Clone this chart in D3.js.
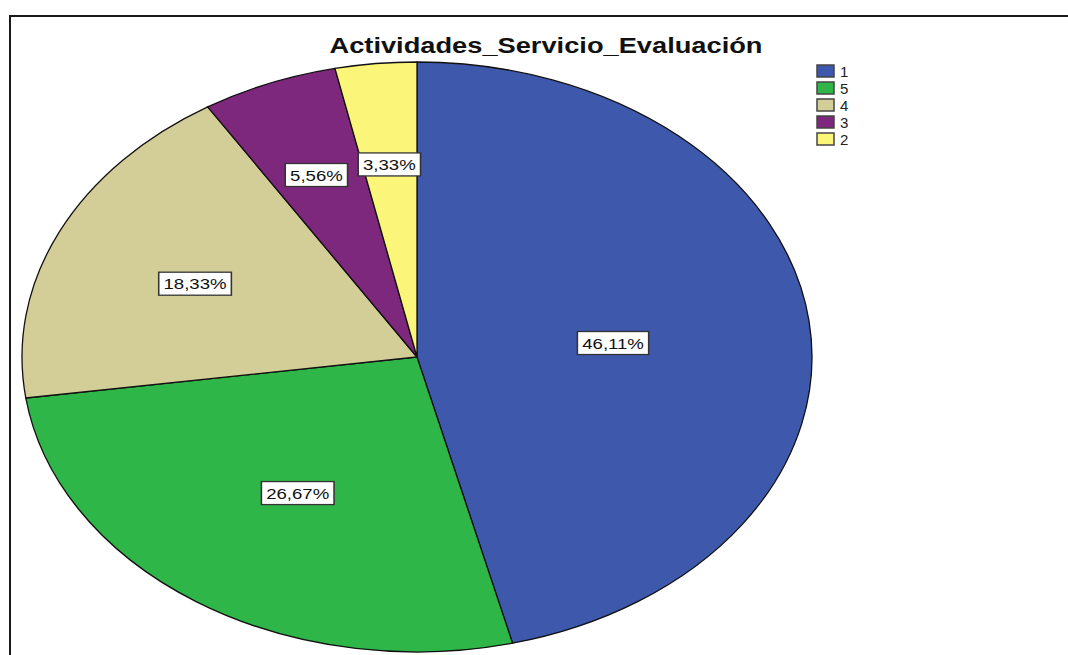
<!DOCTYPE html>
<html>
<head>
<meta charset="utf-8">
<script src="https://cdn.jsdelivr.net/npm/d3@7"></script>
<style>
  body { margin: 0; background: #fff; }
  svg { display: block; font-family: "Liberation Sans", Arial, sans-serif; }
</style>
</head>
<body>
<div id="chart"></div>
<script>
// chart values
const categories = ["1", "5", "4", "3", "2"];
const percents = [46.11, 26.67, 18.33, 5.56, 3.33];
const colors = ["#3e58ab", "#2eb649", "#d3cd98", "#7d287d", "#fbf679"];
const titleText = "Actividades_Servicio_Evaluación";

// layout (not data): label distance from centre, as fraction of radius
const labelRadius = [0.5, 0.54, 0.62, 0.68, 0.67];

const W = 1068, H = 655;
const cx = 417, cy = 357, rx = 395, ry = 295;

const svg = d3.select("#chart").append("svg")
    .attr("width", W)
    .attr("height", H);

// frame
svg.append("path")
    .attr("d", "M10," + H + "V16H" + W)
    .attr("fill", "none")
    .attr("stroke", "#1a1a1a")
    .attr("stroke-width", 2);

// title
svg.append("text")
    .attr("x", 546)
    .attr("y", 53)
    .attr("text-anchor", "middle")
    .attr("font-size", 22)
    .attr("font-weight", "bold")
    .attr("fill", "#111")
    .attr("textLength", 433)
    .attr("lengthAdjust", "spacingAndGlyphs")
    .text(titleText);

const data = categories.map((c, i) => ({ cat: c, value: percents[i], color: colors[i], k: labelRadius[i] }));

const pie = d3.pie().sort(null).value(d => d.value);
const arcs = pie(data);

const arc = d3.arc().innerRadius(0).outerRadius(ry);

// pie drawn as circle then stretched horizontally
const pieG = svg.append("g")
    .attr("transform", "translate(" + cx + "," + cy + ") scale(" + (rx / ry) + ",1)");

pieG.selectAll("path.slice")
    .data(arcs)
  .enter().append("path")
    .attr("class", "slice")
    .attr("d", arc)
    .attr("fill", d => d.data.color)
    .attr("stroke", "#111")
    .attr("stroke-width", 1.3)
    .attr("vector-effect", "non-scaling-stroke");

// percentage labels
const labels = svg.selectAll("g.lbl")
    .data(arcs)
  .enter().append("g")
    .attr("class", "lbl")
    .attr("transform", d => {
        const a = (d.startAngle + d.endAngle) / 2;
        const x = cx + rx * d.data.k * Math.sin(a);
        const y = cy - ry * d.data.k * Math.cos(a) + 4;
        return "translate(" + x + "," + y + ") scale(1.2,1)";
    });

labels.each(function(d) {
    const g = d3.select(this);
    const rect = g.append("rect");
    const t = g.append("text")
        .attr("text-anchor", "middle")
        .attr("dy", "0.36em")
        .attr("font-size", 15.5)
        .attr("fill", "#111")
        .text(d.data.value.toFixed(2).replace(".", ",") + "%");
    const w = t.node().getComputedTextLength();
    rect.attr("x", -w / 2 - 4)
        .attr("y", -11.5)
        .attr("width", w + 8)
        .attr("height", 23)
        .attr("fill", "#fff")
        .attr("stroke", "#333")
        .attr("stroke-width", 1.3);
});

// legend
const legend = svg.append("g").attr("transform", "translate(817,65)");
const rows = legend.selectAll("g")
    .data(data)
  .enter().append("g")
    .attr("transform", (d, i) => "translate(0," + (i * 17) + ")");

rows.append("rect")
    .attr("width", 17)
    .attr("height", 12)
    .attr("fill", d => d.color)
    .attr("stroke", "#444")
    .attr("stroke-width", 1.5);

rows.append("text")
    .attr("x", 23)
    .attr("y", 12)
    .attr("font-size", 15)
    .attr("fill", "#222")
    .text(d => d.cat);
</script>
</body>
</html>
